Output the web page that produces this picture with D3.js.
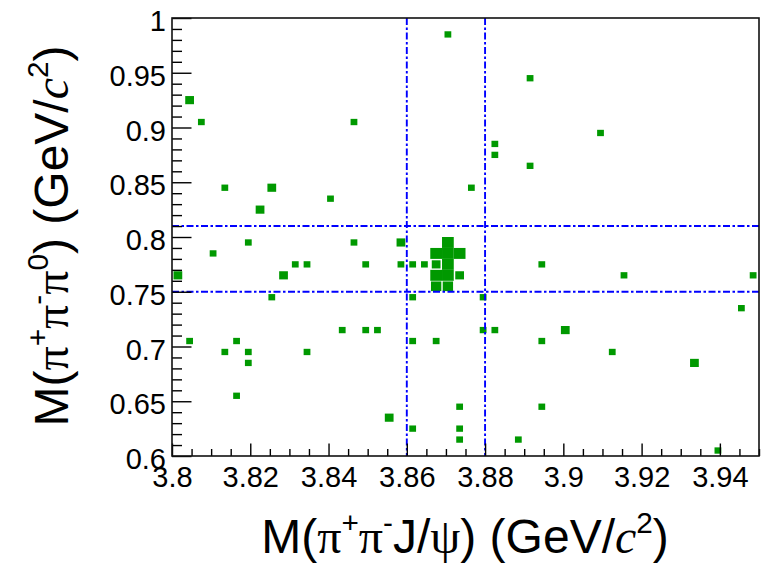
<!DOCTYPE html>
<html>
<head>
<meta charset="utf-8">
<script src="https://cdn.jsdelivr.net/npm/d3@7"></script>
<style>
  body { margin: 0; background: #fff; }
  text { font-family: "Liberation Sans", Arial, sans-serif; fill: #000; }
</style>
</head>
<body>
<svg id="chart" width="780" height="565"></svg>
<script>
// 2D histogram M(pi+pi-J/psi) vs M(pi+pi-pi0): bin centres and entries per bin
const binX = [
  3.8705, 3.8045, 3.8075, 3.8465, 3.8135, 3.8255, 3.8405, 3.8225, 3.8915, 3.9095,
  3.8825, 3.8825, 3.8915, 3.8765, 3.8195, 3.8465, 3.8585, 3.8705, 3.8105, 3.8675,
  3.8705, 3.8735, 3.8315, 3.8345, 3.8495, 3.8585, 3.8615, 3.8645, 3.8675, 3.8705,
  3.8945, 3.8015, 3.8285, 3.8675, 3.8705, 3.8735, 3.9155, 3.9485, 3.8675, 3.8705,
  3.8255, 3.8615, 3.8795, 3.9455, 3.8435, 3.8495, 3.8525, 3.8795, 3.8825, 3.9005,
  3.8045, 3.8165, 3.8615, 3.8675, 3.8945, 3.8135, 3.8195, 3.8345, 3.9125, 3.8195,
  3.9335, 3.8165, 3.8555, 3.8615, 3.8735, 3.8945, 3.8735, 3.8735, 3.8885, 3.9395
];
const binY = [
  0.985, 0.925, 0.905, 0.905, 0.845, 0.845, 0.835, 0.825, 0.945, 0.895,
  0.885, 0.875, 0.865, 0.845, 0.795, 0.795, 0.795, 0.795, 0.785, 0.785,
  0.785, 0.785, 0.775, 0.775, 0.775, 0.775, 0.775, 0.775, 0.775, 0.775,
  0.775, 0.765, 0.765, 0.765, 0.765, 0.765, 0.765, 0.765, 0.755, 0.755,
  0.745, 0.745, 0.745, 0.735, 0.715, 0.715, 0.715, 0.715, 0.715, 0.715,
  0.705, 0.705, 0.705, 0.705, 0.705, 0.695, 0.695, 0.695, 0.695, 0.685,
  0.685, 0.655, 0.635, 0.625, 0.645, 0.645, 0.625, 0.615, 0.615, 0.605
];
const entries = [
  1, 2, 1, 1, 1, 2, 1, 2, 1, 1,
  1, 1, 1, 1, 1, 1, 2, 4, 1, 4,
  4, 4, 1, 1, 1, 1, 1, 1, 2, 4,
  1, 2, 2, 4, 4, 2, 1, 1, 3, 3,
  1, 1, 1, 1, 1, 1, 1, 1, 1, 2,
  1, 1, 1, 1, 1, 1, 1, 1, 1, 1,
  2, 1, 2, 1, 1, 1, 1, 1, 1, 1
];

// binning of the histogram
const binWidthX = 0.003;
const binWidthY = 0.01;

// axis ticks and labels
const xMajor = [3.8, 3.82, 3.84, 3.86, 3.88, 3.9, 3.92, 3.94];
const xLabels = ["3.8", "3.82", "3.84", "3.86", "3.88", "3.9", "3.92", "3.94"];
const yMajor = [0.6, 0.65, 0.7, 0.75, 0.8, 0.85, 0.9, 0.95, 1.0];
const yLabels = ["0.6", "0.65", "0.7", "0.75", "0.8", "0.85", "0.9", "0.95", "1"];

// signal-region cut lines
const cutX = [3.86, 3.88];
const cutY = [0.75, 0.81];

const svg = d3.select("#chart");
const frame = { left: 172, right: 759, top: 18, bottom: 456 };

const x = d3.scaleLinear().domain([3.8, 3.95]).range([frame.left, frame.right]);
const y = d3.scaleLinear().domain([0.6, 1.0]).range([frame.bottom, frame.top]);

const zMax = d3.max(entries);
const cells = binX.map((bx, i) => ({ x: bx, y: binY[i], n: entries[i] }));

// boxes: side grows with the square root of the bin content
svg.append("g").selectAll("rect")
  .data(cells)
  .join("rect")
  .attr("fill", "#009900")
  .each(function (d) {
    const f = Math.sqrt((d.n + 0.5) / (zMax + 0.5));
    const x0 = x(d.x - binWidthX / 2), x1 = x(d.x + binWidthX / 2);
    const y0 = y(d.y + binWidthY / 2), y1 = y(d.y - binWidthY / 2);
    const w = (x1 - x0) * f, h = (y1 - y0) * f;
    d3.select(this)
      .attr("x", (x0 + x1) / 2 - w / 2)
      .attr("y", (y0 + y1) / 2 - h / 2)
      .attr("width", w)
      .attr("height", h);
  });

// cut lines (dash-dot)
const cuts = svg.append("g")
  .attr("stroke", "#0000ff")
  .attr("stroke-width", 1.9)
  .attr("stroke-dasharray", "7,2.5,2.5,2.5")
  .attr("fill", "none");
cuts.selectAll("line.v").data(cutX).join("line")
  .attr("class", "v")
  .attr("x1", d => x(d)).attr("x2", d => x(d))
  .attr("y1", frame.top).attr("y2", frame.bottom);
cuts.selectAll("line.h").data(cutY).join("line")
  .attr("class", "h")
  .attr("x1", frame.left).attr("x2", frame.right)
  .attr("y1", d => y(d)).attr("y2", d => y(d));

// axes with ticks inside the frame
const xMinor = d3.range(0, 31).map(k => 3.8 + 0.005 * k).filter(v => xMajor.every(m => Math.abs(m - v) > 1e-6));
const yMinor = d3.range(0, 41).map(k => 0.6 + 0.01 * k).filter(v => yMajor.every(m => Math.abs(m - v) > 1e-6));

const gxMinor = svg.append("g").attr("transform", `translate(0,${frame.bottom})`)
  .call(d3.axisBottom(x).tickValues(xMinor).tickSizeInner(-7).tickSizeOuter(0).tickFormat(""));
const gx = svg.append("g").attr("transform", `translate(0,${frame.bottom})`)
  .call(d3.axisBottom(x).tickValues(xMajor).tickSizeInner(-12.5).tickSizeOuter(0)
    .tickFormat((d, i) => xLabels[i]));
gx.selectAll("text").attr("y", 0).attr("dy", 0)
  .attr("transform", "translate(0,30.5)")
  .style("font-size", "29px").style("font-family", "'Liberation Sans', Arial, sans-serif")
  .attr("fill", "#000");

const gyMinor = svg.append("g").attr("transform", `translate(${frame.left},0)`)
  .call(d3.axisLeft(y).tickValues(yMinor).tickSizeInner(-10).tickSizeOuter(0).tickFormat(""));
const gy = svg.append("g").attr("transform", `translate(${frame.left},0)`)
  .call(d3.axisLeft(y).tickValues(yMajor).tickSizeInner(-19.5).tickSizeOuter(0)
    .tickFormat((d, i) => yLabels[i]));
gy.selectAll("text").attr("x", -6).attr("dy", 0)
  .attr("transform", "translate(0,12.5)")
  .style("font-size", "29px").style("font-family", "'Liberation Sans', Arial, sans-serif")
  .attr("fill", "#000");

[gxMinor, gx, gyMinor, gy].forEach(g => {
  g.select(".domain").remove();
  g.selectAll("line").attr("stroke", "#000").attr("stroke-width", 1.4);
});

// frame
svg.append("rect")
  .attr("x", frame.left).attr("y", frame.top)
  .attr("width", frame.right - frame.left).attr("height", frame.bottom - frame.top)
  .attr("fill", "none").attr("stroke", "#111").attr("stroke-width", 1.6);

// axis titles built from styled pieces
function title(g, pieces, size) {
  const t = g.append("text").style("font-size", size + "px");
  pieces.forEach(p => {
    const s = t.append("tspan").text(p.t);
    if (p.serif) s.style("font-family", "'Liberation Serif', 'DejaVu Serif', serif");
    if (p.it) s.style("font-style", "italic");
    if (p.sup) s.attr("dy", -size * 0.42).style("font-size", (size * 0.62) + "px");
    if (p.back) s.attr("dy", size * 0.42);
  });
  return t;
}

title(svg.append("g").attr("transform", "translate(465,553)"), [
  { t: "M(" }, { t: "π", serif: true }, { t: "+", sup: true },
  { t: "π", serif: true, back: true }, { t: "-", sup: true },
  { t: "J/", back: true }, { t: "ψ", serif: true }, { t: ") (GeV/" },
  { t: "c", serif: true, it: true }, { t: "2", sup: true }, { t: ")", back: true }
], 48).attr("text-anchor", "middle");

title(svg.append("g").attr("transform", "translate(68,236) rotate(-90)"), [
  { t: "M(" }, { t: "π", serif: true }, { t: "+", sup: true },
  { t: "π", serif: true, back: true }, { t: "-", sup: true },
  { t: "π", serif: true, back: true }, { t: "0", sup: true },
  { t: ") (GeV/", back: true },
  { t: "c", serif: true, it: true }, { t: "2", sup: true }, { t: ")", back: true }
], 48).attr("text-anchor", "middle");
</script>
</body>
</html>
